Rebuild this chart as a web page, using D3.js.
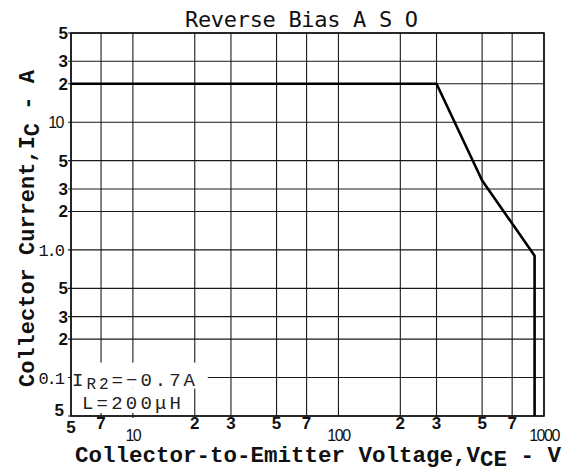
<!DOCTYPE html>
<meta charset="utf-8">
<title>Reverse Bias A S O</title>
<script src="https://cdn.jsdelivr.net/npm/d3@7"></script>
<style>
body { margin:0; background:#fff; }
svg { display:block; background:#fff; }
.grid line { stroke:#1a1a1a; stroke-width:1.1; }
.frame { fill:none; stroke:#111; stroke-width:1.6; }
.curve { fill:none; stroke:#000; stroke-width:2.6; stroke-linejoin:round; }
.tick { font-family:"Liberation Sans", Arial, sans-serif; font-weight:bold; font-size:17px; fill:#111; }
.tick.dec { font-weight:normal; font-size:16px; letter-spacing:-1.5px; }
.tick.pt { font-family:"Liberation Mono", monospace; font-weight:normal; font-size:17px; letter-spacing:-2px; }
.axtitle { font-family:"Liberation Mono", "Courier New", monospace; font-weight:bold; fill:#111; }
.title { font-family:"DejaVu Sans Mono", monospace; font-size:22px; fill:#111; }
.note { font-family:"Liberation Mono", "Courier New", monospace; font-size:19px; fill:#222; }
</style>
<svg width="574" height="475"></svg>
<script>
// curve: reverse bias safe operating area
var vce = [5, 300, 500, 900, 900];
var ic  = [20, 20, 3.5, 0.9, 0.05];

var xTicks      = [5, 7, 10, 20, 30, 50, 70, 100, 200, 300, 500, 700, 1000];
var xTickLabels = ["5", "7", "10", "2", "3", "5", "7", "100", "2", "3", "5", "7", "1000"];
var yTicks      = [0.05, 0.1, 0.2, 0.3, 0.5, 1, 2, 3, 5, 10, 20, 30, 50];
var yTickLabels = ["5", "0.1", "2", "3", "5", "1.0", "2", "3", "5", "10", "2", "3", "5"];

var svg = d3.select("svg"),
    margin = {top: 33, right: 30, bottom: 59, left: 71},
    width = +svg.attr("width") - margin.left - margin.right,
    height = +svg.attr("height") - margin.top - margin.bottom;

var x = d3.scaleLog().domain([5, 1000]).range([0, width]),
    y = d3.scaleLog().domain([0.05, 50]).range([height, 0]);

var g = svg.append("g")
    .attr("transform", "translate(" + margin.left + "," + margin.top + ")");

// grid
var grid = g.append("g").attr("class", "grid");
grid.selectAll(".v").data(xTicks).enter().append("line")
    .attr("x1", function(d) { return x(d); })
    .attr("x2", function(d) { return x(d); })
    .attr("y1", 0).attr("y2", height);
grid.selectAll(".h").data(yTicks).enter().append("line")
    .attr("x1", -3).attr("x2", width)
    .attr("y1", function(d) { return y(d); })
    .attr("y2", function(d) { return y(d); });

g.append("rect").attr("class", "frame")
    .attr("width", width).attr("height", height);

// condition box (hides the grid behind it)
g.append("rect").attr("x", 1).attr("y", y(0.1) - 15).attr("width", x(20) + 12).attr("height", 26).attr("fill", "#fff");
g.append("rect").attr("x", 1).attr("y", y(0.1) + 11).attr("width", x(20) - 4).attr("height", height - y(0.1) - 12).attr("fill", "#fff");
// small bottom ticks inside the box
g.selectAll(".bt").data([7, 10]).enter().append("line")
    .attr("x1", function(d) { return x(d); }).attr("x2", function(d) { return x(d); })
    .attr("y1", height - 3).attr("y2", height + 2)
    .attr("stroke", "#222").attr("stroke-width", 1.2);

var n1 = g.append("text").attr("class", "note").attr("x", 1).attr("y", y(0.1) + 8)
    .attr("letter-spacing", "3px");
n1.append("tspan").text("I");
n1.append("tspan").attr("dy", 3).attr("font-size", "16px").text("R2");
n1.append("tspan").attr("dy", -3).text("=\u22120.7A");
g.append("text").attr("class", "note").attr("x", 11).attr("y", y(0.1) + 31)
    .attr("letter-spacing", "3.2px").text("L=200\u03bcH");

// curve
var pts = vce.map(function(v, i) { return [v, ic[i]]; });
g.append("path").attr("class", "curve")
    .attr("d", d3.line().x(function(d) { return x(d[0]); }).y(function(d) { return y(d[1]); })(pts));

// x tick labels
g.selectAll(".xl").data(xTicks).enter().append("text")
    .attr("class", function(d, i) { return /^10+$/.test(xTickLabels[i]) ? "tick dec" : "tick"; })
    .attr("x", function(d) { return x(d); })
    .attr("y", function(d, i) { return /^10+$/.test(xTickLabels[i]) ? height + 25 : height + (i === 0 ? 17 : 13); })
    .attr("text-anchor", "middle")
    .text(function(d, i) { return xTickLabels[i]; });

// y tick labels
g.selectAll(".yl").data(yTicks).enter().append("text")
    .attr("class", function(d, i) {
      var t = yTickLabels[i];
      return t.indexOf(".") >= 0 ? "tick pt" : (t.length > 1 ? "tick dec" : "tick");
    })
    .attr("x", function(d, i) { return i === 0 ? -7 : (yTickLabels[i].length > 1 ? -8 : -3); })
    .attr("y", function(d, i) { return y(d) + (i === 0 ? 0 : 6); })
    .attr("text-anchor", "end")
    .text(function(d, i) { return yTickLabels[i]; });

// titles
svg.append("text").attr("class", "title")
    .attr("x", 185).attr("y", 27)
    .attr("textLength", 233).attr("lengthAdjust", "spacing")
    .text("Reverse Bias A S O");

var xt = svg.append("text").attr("class", "axtitle")
    .attr("x", 75).attr("y", 462).attr("font-size", "22.5px");
xt.append("tspan").text("Collector-to-Emitter Voltage,V");
xt.append("tspan").attr("dy", 4).text("CE");
xt.append("tspan").attr("dy", -4).text(" - V");

var yt = svg.append("text").attr("class", "axtitle")
    .attr("transform", "translate(34,387) rotate(-90)").attr("font-size", "22px");
yt.append("tspan").text("Collector Current,I");
yt.append("tspan").attr("dy", 5).text("C");
yt.append("tspan").attr("dy", -5).text(" - A");
</script>
</html>
